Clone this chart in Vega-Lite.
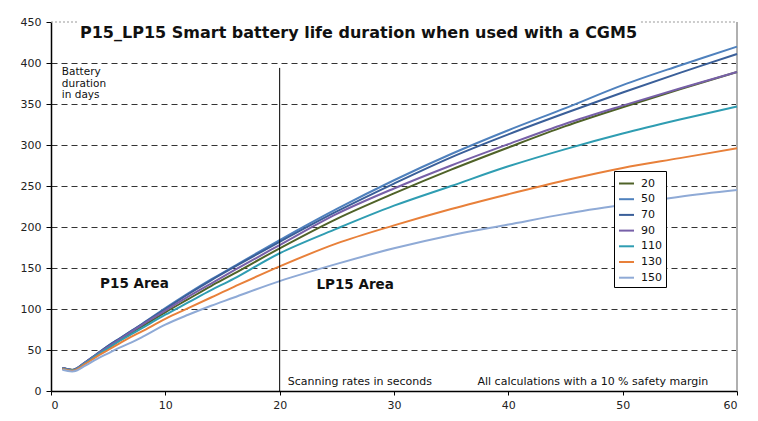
{
  "$schema": "https://vega.github.io/schema/vega-lite/v6.json",
  "autosize": {"type": "none"},
  "width": 686,
  "height": 369,
  "padding": {"left": 51, "top": 22, "right": 21, "bottom": 30},
  "background": "white",
  "title": {
    "text": "P15_LP15 Smart battery life duration when used with a CGM5",
    "font": "DejaVu Sans",
    "fontSize": 16,
    "fontWeight": "bold",
    "color": "#111",
    "anchor": "start",
    "frame": "group",
    "dx": 29,
    "offset": -25
  },
  "config": {
    "font": "DejaVu Sans",
    "view": {"stroke": null},
    "axis": {
      "labelFont": "DejaVu Sans",
      "labelFontSize": 11,
      "labelColor": "#222",
      "domainColor": "#000",
      "domainWidth": 1.5,
      "tickColor": "#000",
      "gridColor": "#333",
      "gridDash": [6, 4],
      "gridWidth": 1
    }
  },
  "datasets": {
    "curves": [
      {"rate": "20", "s": 1, "d": 28}, {"rate": "20", "s": 2, "d": 26}, {"rate": "20", "s": 3, "d": 34.5}, {"rate": "20", "s": 4, "d": 44}, {"rate": "20", "s": 5, "d": 53}, {"rate": "20", "s": 6, "d": 62}, {"rate": "20", "s": 7, "d": 71}, {"rate": "20", "s": 8, "d": 79}, {"rate": "20", "s": 10, "d": 96}, {"rate": "20", "s": 12, "d": 112}, {"rate": "20", "s": 14, "d": 128}, {"rate": "20", "s": 16, "d": 143}, {"rate": "20", "s": 20, "d": 174}, {"rate": "20", "s": 25, "d": 210}, {"rate": "20", "s": 30, "d": 241}, {"rate": "20", "s": 35, "d": 270}, {"rate": "20", "s": 40, "d": 297}, {"rate": "20", "s": 45, "d": 323}, {"rate": "20", "s": 50, "d": 346}, {"rate": "20", "s": 55, "d": 368}, {"rate": "20", "s": 60, "d": 389},
      {"rate": "50", "s": 1, "d": 28}, {"rate": "50", "s": 2, "d": 26}, {"rate": "50", "s": 3, "d": 35}, {"rate": "50", "s": 4, "d": 45}, {"rate": "50", "s": 5, "d": 55}, {"rate": "50", "s": 6, "d": 64}, {"rate": "50", "s": 7, "d": 73}, {"rate": "50", "s": 8, "d": 82}, {"rate": "50", "s": 10, "d": 101}, {"rate": "50", "s": 12, "d": 119}, {"rate": "50", "s": 14, "d": 136}, {"rate": "50", "s": 16, "d": 152}, {"rate": "50", "s": 20, "d": 184}, {"rate": "50", "s": 25, "d": 222}, {"rate": "50", "s": 30, "d": 257}, {"rate": "50", "s": 35, "d": 289}, {"rate": "50", "s": 40, "d": 318}, {"rate": "50", "s": 45, "d": 345}, {"rate": "50", "s": 50, "d": 373}, {"rate": "50", "s": 55, "d": 397}, {"rate": "50", "s": 60, "d": 420},
      {"rate": "70", "s": 1, "d": 28}, {"rate": "70", "s": 2, "d": 26}, {"rate": "70", "s": 3, "d": 35}, {"rate": "70", "s": 4, "d": 45}, {"rate": "70", "s": 5, "d": 55}, {"rate": "70", "s": 6, "d": 64}, {"rate": "70", "s": 7, "d": 73}, {"rate": "70", "s": 8, "d": 82}, {"rate": "70", "s": 10, "d": 100}, {"rate": "70", "s": 12, "d": 118}, {"rate": "70", "s": 14, "d": 135}, {"rate": "70", "s": 16, "d": 151}, {"rate": "70", "s": 20, "d": 182}, {"rate": "70", "s": 25, "d": 219}, {"rate": "70", "s": 30, "d": 253}, {"rate": "70", "s": 35, "d": 285}, {"rate": "70", "s": 40, "d": 313}, {"rate": "70", "s": 45, "d": 339}, {"rate": "70", "s": 50, "d": 364}, {"rate": "70", "s": 55, "d": 388}, {"rate": "70", "s": 60, "d": 411},
      {"rate": "90", "s": 1, "d": 28}, {"rate": "90", "s": 2, "d": 26}, {"rate": "90", "s": 3, "d": 35}, {"rate": "90", "s": 4, "d": 44.5}, {"rate": "90", "s": 5, "d": 54}, {"rate": "90", "s": 6, "d": 63}, {"rate": "90", "s": 7, "d": 72}, {"rate": "90", "s": 8, "d": 81}, {"rate": "90", "s": 10, "d": 98}, {"rate": "90", "s": 12, "d": 115}, {"rate": "90", "s": 14, "d": 131}, {"rate": "90", "s": 16, "d": 147}, {"rate": "90", "s": 20, "d": 178}, {"rate": "90", "s": 25, "d": 216}, {"rate": "90", "s": 30, "d": 247}, {"rate": "90", "s": 35, "d": 275}, {"rate": "90", "s": 40, "d": 301}, {"rate": "90", "s": 45, "d": 326}, {"rate": "90", "s": 50, "d": 348}, {"rate": "90", "s": 55, "d": 369}, {"rate": "90", "s": 60, "d": 389},
      {"rate": "110", "s": 1, "d": 27.5}, {"rate": "110", "s": 2, "d": 25.5}, {"rate": "110", "s": 3, "d": 34}, {"rate": "110", "s": 4, "d": 43.5}, {"rate": "110", "s": 5, "d": 52}, {"rate": "110", "s": 6, "d": 61}, {"rate": "110", "s": 7, "d": 69}, {"rate": "110", "s": 8, "d": 77}, {"rate": "110", "s": 10, "d": 93}, {"rate": "110", "s": 12, "d": 108}, {"rate": "110", "s": 14, "d": 123}, {"rate": "110", "s": 16, "d": 137}, {"rate": "110", "s": 20, "d": 168}, {"rate": "110", "s": 25, "d": 198}, {"rate": "110", "s": 30, "d": 226}, {"rate": "110", "s": 35, "d": 250}, {"rate": "110", "s": 40, "d": 274}, {"rate": "110", "s": 45, "d": 295}, {"rate": "110", "s": 50, "d": 314}, {"rate": "110", "s": 55, "d": 331}, {"rate": "110", "s": 60, "d": 347},
      {"rate": "130", "s": 1, "d": 27}, {"rate": "130", "s": 2, "d": 25}, {"rate": "130", "s": 3, "d": 33}, {"rate": "130", "s": 4, "d": 42}, {"rate": "130", "s": 5, "d": 50}, {"rate": "130", "s": 6, "d": 58}, {"rate": "130", "s": 7, "d": 66}, {"rate": "130", "s": 8, "d": 73}, {"rate": "130", "s": 10, "d": 88}, {"rate": "130", "s": 12, "d": 101}, {"rate": "130", "s": 14, "d": 114}, {"rate": "130", "s": 16, "d": 127}, {"rate": "130", "s": 20, "d": 152}, {"rate": "130", "s": 25, "d": 180}, {"rate": "130", "s": 30, "d": 202}, {"rate": "130", "s": 35, "d": 222}, {"rate": "130", "s": 40, "d": 240}, {"rate": "130", "s": 45, "d": 257}, {"rate": "130", "s": 50, "d": 272}, {"rate": "130", "s": 55, "d": 284}, {"rate": "130", "s": 60, "d": 296},
      {"rate": "150", "s": 1, "d": 26}, {"rate": "150", "s": 2, "d": 24}, {"rate": "150", "s": 3, "d": 31}, {"rate": "150", "s": 4, "d": 39}, {"rate": "150", "s": 5, "d": 46}, {"rate": "150", "s": 6, "d": 53}, {"rate": "150", "s": 7, "d": 59}, {"rate": "150", "s": 8, "d": 66}, {"rate": "150", "s": 10, "d": 81}, {"rate": "150", "s": 12, "d": 93}, {"rate": "150", "s": 14, "d": 104}, {"rate": "150", "s": 16, "d": 114}, {"rate": "150", "s": 20, "d": 134}, {"rate": "150", "s": 25, "d": 155}, {"rate": "150", "s": 30, "d": 174}, {"rate": "150", "s": 35, "d": 190}, {"rate": "150", "s": 40, "d": 203}, {"rate": "150", "s": 45, "d": 216}, {"rate": "150", "s": 50, "d": 227}, {"rate": "150", "s": 55, "d": 237}, {"rate": "150", "s": 60, "d": 245}
    ]
  },
  "layer": [
    {
      "data": {"values": [{"s": 0, "s2": 2.4, "d": 450}, {"s": 51.6, "s2": 60, "d": 450}]},
      "mark": {"type": "rule", "color": "#999", "strokeDash": [2, 2], "strokeWidth": 1},
      "encoding": {
        "x": {"field": "s", "type": "quantitative", "title": null},
        "x2": {"field": "s2"},
        "y": {"field": "d", "type": "quantitative", "title": null}
      }
    },
    {
      "data": {"values": [{"s": 60, "d": 0, "d2": 450}]},
      "mark": {"type": "rule", "color": "#b0b0b0", "strokeWidth": 2},
      "encoding": {
        "x": {"field": "s", "type": "quantitative", "title": null},
        "y": {"field": "d", "type": "quantitative", "title": null},
        "y2": {"field": "d2"}
      }
    },
    {
      "data": {"name": "curves"},
      "mark": {"type": "line", "strokeWidth": 2, "interpolate": "catmull-rom"},
      "encoding": {
        "x": {
          "field": "s", "type": "quantitative", "title": null,
          "scale": {"domain": [0, 60], "nice": false, "zero": false},
          "axis": {"values": [0, 10, 20, 30, 40, 50, 60], "grid": false, "tickSize": 4, "labelPadding": 4}
        },
        "y": {
          "field": "d", "type": "quantitative", "title": null,
          "scale": {"domain": [0, 450], "nice": false},
          "axis": {
            "values": [0, 50, 100, 150, 200, 250, 300, 350, 400, 450],
            "tickSize": 5, "labelPadding": 5,
            "gridOpacity": {"condition": {"test": "datum.value === 0 || datum.value === 450", "value": 0}, "value": 1}
          }
        },
        "color": {
          "field": "rate", "type": "nominal",
          "scale": {
            "domain": ["20", "50", "70", "90", "110", "130", "150"],
            "range": ["#4F6228", "#4F81BD", "#3A5F99", "#7760A8", "#2F9DB2", "#E8803A", "#8FAAD6"]
          },
          "legend": {
            "title": null,
            "orient": "none",
            "legendX": 563,
            "legendY": 149,
            "direction": "vertical",
            "symbolType": "stroke",
            "symbolSize": 225,
            "symbolStrokeWidth": 2,
            "labelFontSize": 11,
            "labelFont": "DejaVu Sans",
            "labelColor": "#111",
            "labelOffset": 6,
            "rowPadding": 1.7,
            "padding": 4,
            "strokeColor": "#000",
            "fillColor": "#fff"
          }
        }
      }
    },
    {
      "data": {"values": [{"s": 20, "d": 0, "d2": 394}]},
      "mark": {"type": "rule", "color": "#000", "strokeWidth": 1},
      "encoding": {
        "x": {"field": "s", "type": "quantitative", "title": null},
        "y": {"field": "d", "type": "quantitative", "title": null},
        "y2": {"field": "d2"}
      }
    },
    {
      "data": {"values": [
        {"s": 0.95, "d": 385, "label": "Battery\nduration\nin days"}
      ]},
      "mark": {"type": "text", "align": "left", "baseline": "alphabetic", "fontSize": 10.5, "lineHeight": 11.5, "lineBreak": "\n", "color": "#111", "font": "DejaVu Sans"},
      "encoding": {
        "x": {"field": "s", "type": "quantitative", "title": null},
        "y": {"field": "d", "type": "quantitative", "title": null},
        "text": {"field": "label"}
      }
    },
    {
      "data": {"values": [
        {"s": 20.7, "d": 4.5, "label": "Scanning rates in seconds"},
        {"s": 37.3, "d": 4.5, "label": "All calculations with a 10 % safety margin"}
      ]},
      "mark": {"type": "text", "align": "left", "baseline": "bottom", "fontSize": 11, "color": "#111", "font": "DejaVu Sans"},
      "encoding": {
        "x": {"field": "s", "type": "quantitative", "title": null},
        "y": {"field": "d", "type": "quantitative", "title": null},
        "text": {"field": "label"}
      }
    },
    {
      "data": {"values": [
        {"s": 7.3, "d": 131, "label": "P15 Area"},
        {"s": 26.6, "d": 129, "label": "LP15 Area"}
      ]},
      "mark": {"type": "text", "align": "center", "baseline": "middle", "fontSize": 13.5, "fontWeight": "bold", "color": "#111", "font": "DejaVu Sans"},
      "encoding": {
        "x": {"field": "s", "type": "quantitative", "title": null},
        "y": {"field": "d", "type": "quantitative", "title": null},
        "text": {"field": "label"}
      }
    }
  ]
}
